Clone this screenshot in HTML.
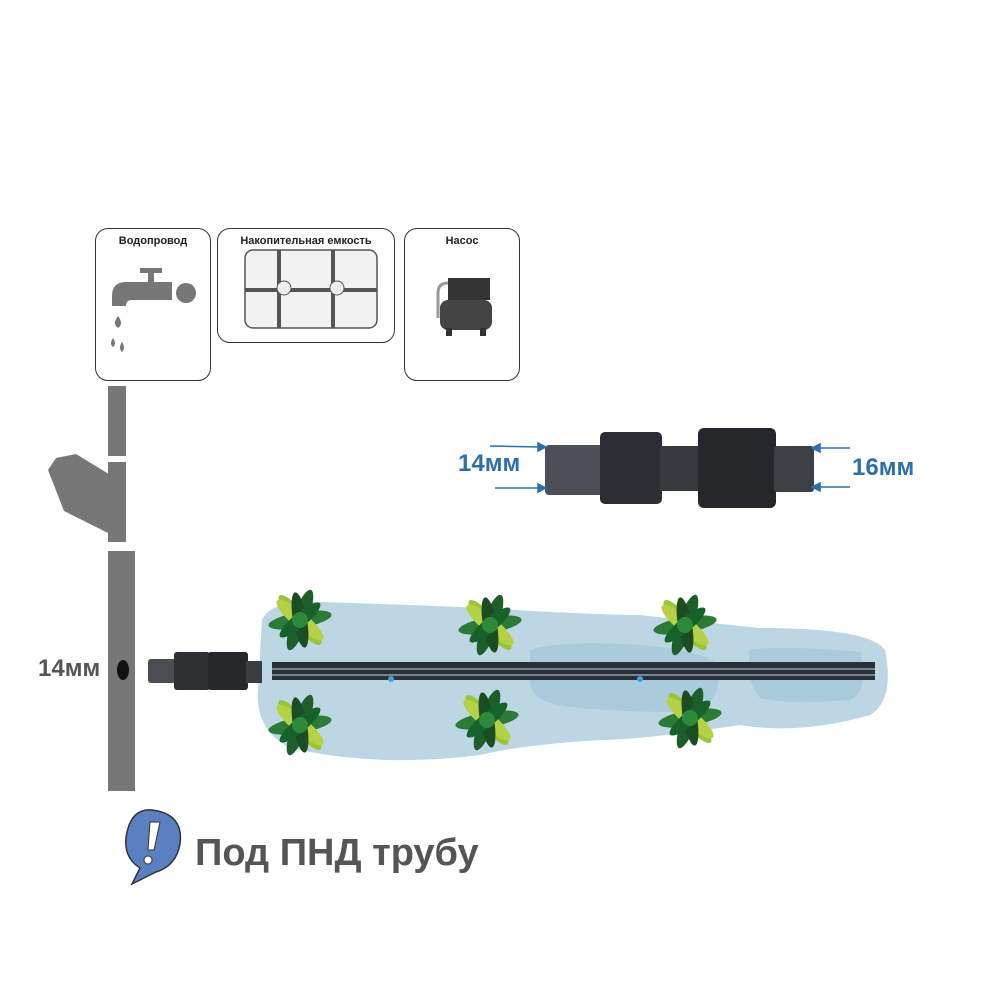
<!DOCTYPE html>
<html><head><meta charset="utf-8"><style>
body{margin:0;width:1000px;height:1000px;background:#fff;position:relative;overflow:hidden;font-family:"Liberation Sans",sans-serif}
.box{position:absolute;border:1.5px solid #333;border-radius:13px;box-sizing:border-box;text-align:center;font-size:11px;font-weight:bold;color:#222;padding-top:6px}
.t{position:absolute;font-weight:bold}
</style></head><body>
<div class="box" style="left:95px;top:228px;width:116px;height:153px">Водопровод</div>
<div class="box" style="left:217px;top:228px;width:178px;height:115px">Накопительная емкость</div>
<div class="box" style="left:404px;top:228px;width:116px;height:153px">Насос</div>
<svg width="1000" height="1000" style="position:absolute;left:0;top:0">
<g fill="#777">
<rect x="140" y="268" width="22" height="5"/><rect x="148" y="272" width="6" height="12"/>
<path d="M112 306 v-10 q0-14 14-14 h46 v18 h-40 q-6 0-6 6 z"/>
<circle cx="186" cy="293" r="10"/>
<path d="M118 316 q6 8 0 12 q-6-4 0-12z M113 338 q4 6 0 9 q-4-3 0-9z M122 342 q4 6 0 10 q-4-4 0-10z"/>
</g>
<rect x="245" y="250" width="132" height="78" rx="8" fill="#f2f2f2" stroke="#555" stroke-width="1.5"/>
<path d="M245 290 H377 M279 250 V328 M333 250 V328" stroke="#555" stroke-width="4" fill="none"/>
<circle cx="284" cy="288" r="7" fill="#eee" stroke="#555"/><circle cx="337" cy="288" r="7" fill="#eee" stroke="#555"/>
<path d="M438 318 v-25 q0-10 10-10" stroke="#999" stroke-width="3" fill="none"/>
<rect x="440" y="300" width="52" height="30" rx="8" fill="#444"/>
<rect x="448" y="278" width="42" height="22" fill="#333"/>
<rect x="446" y="328" width="6" height="8" fill="#333"/><rect x="480" y="328" width="6" height="8" fill="#333"/>
<g fill="#777">
<rect x="108" y="386" width="18" height="70"/>
<rect x="108" y="462" width="18" height="80"/>
<path d="M48 470 l8-12 l20-4 l36 22 l14 40 l-12 20 l-50-25 z"/>
<rect x="108" y="551" width="27" height="240"/>
</g>
<ellipse cx="123" cy="670" rx="6" ry="10" fill="#111"/>
<path d="M262 620 Q270 600 320 602 Q420 605 480 608 Q600 615 640 615 Q700 622 760 628 Q870 628 885 650 Q895 700 870 715 Q800 735 740 725 Q640 740 600 740 Q520 745 480 755 Q380 768 290 748 Q255 730 258 690 Z" fill="#bcd6e3"/>
<path d="M530 650 Q560 640 640 645 Q700 650 720 665 Q720 710 690 712 Q600 712 560 705 Q530 700 530 680Z M750 650 Q780 645 860 652 Q870 690 850 700 Q790 705 760 698 Q745 680 750 650Z" fill="#a9cbdc"/>
<rect x="272" y="662" width="603" height="18" fill="#2b2f38"/>
<rect x="272" y="668" width="603" height="2" fill="#7a8390"/><rect x="272" y="674" width="603" height="2" fill="#7a8390"/>
<circle cx="391" cy="679" r="3" fill="#3aa5de"/><circle cx="640" cy="679" r="3" fill="#3aa5de"/>
<rect x="148" y="659" width="30" height="24" rx="3" fill="#4a4d52"/>
<rect x="174" y="652" width="36" height="38" rx="3" fill="#2e3034"/>
<rect x="208" y="652" width="40" height="38" rx="3" fill="#26282b"/>
<rect x="246" y="661" width="16" height="22" fill="#3a3d42"/>
<rect x="545" y="445" width="60" height="50" rx="4" fill="#4c4f55"/>
<rect x="600" y="432" width="62" height="72" rx="5" fill="#2c2e33"/>
<rect x="660" y="446" width="40" height="45" fill="#36393e"/>
<rect x="698" y="428" width="78" height="80" rx="6" fill="#25272b"/>
<rect x="774" y="446" width="40" height="46" rx="3" fill="#3c3f44"/>
<g stroke="#2f6fa7" stroke-width="1.5" fill="#2f6fa7">
<line x1="490" y1="446" x2="540" y2="447"/><path d="M546 447 l-8-4 v8z"/>
<line x1="495" y1="488" x2="540" y2="488"/><path d="M546 488 l-8-4 v8z"/>
<line x1="820" y1="448" x2="850" y2="448"/><path d="M812 448 l8-4 v8z"/>
<line x1="820" y1="487" x2="850" y2="487"/><path d="M812 487 l8-4 v8z"/>
</g>
<defs><g id="p">
<ellipse rx="8" ry="32" fill="#1e5e2a" transform="rotate(20)"/><ellipse rx="8" ry="32" fill="#9cc43a" transform="rotate(-40)"/>
<ellipse rx="8" ry="32" fill="#2b7a35" transform="rotate(80)"/><ellipse rx="8" ry="30" fill="#b5d246" transform="rotate(130)"/>
<ellipse rx="7" ry="28" fill="#1a4d22" transform="rotate(-10)"/><ellipse rx="7" ry="26" fill="#17612a" transform="rotate(50)"/>
<circle r="8" fill="#2e8a3a"/>
</g></defs>
<use href="#p" x="300" y="620"/><use href="#p" x="490" y="625"/><use href="#p" x="685" y="625"/>
<use href="#p" x="300" y="725"/><use href="#p" x="487" y="720"/><use href="#p" x="690" y="718"/>
<path d="M152 810 q32 4 28 34 q-4 22 -24 28 l-24 12 l8-16 q-16-10-14-30 q4-30 26-28z" fill="#5a80c2" stroke="#333" stroke-width="1.5"/>
<path d="M150 822 h10 l-6 28 h-6z" fill="#fff" stroke="#333"/><circle cx="148" cy="860" r="4" fill="#fff" stroke="#333"/>
</svg>
<div class="t" style="left:458px;top:450px;font-size:24px;color:#2f6fa7">14мм</div>
<div class="t" style="left:852px;top:454px;font-size:24px;color:#2f6fa7">16мм</div>
<div class="t" style="left:38px;top:655px;font-size:24px;color:#555">14мм</div>
<div class="t" style="left:195px;top:832px;font-size:38px;color:#555">Под ПНД трубу</div>
</body></html>
